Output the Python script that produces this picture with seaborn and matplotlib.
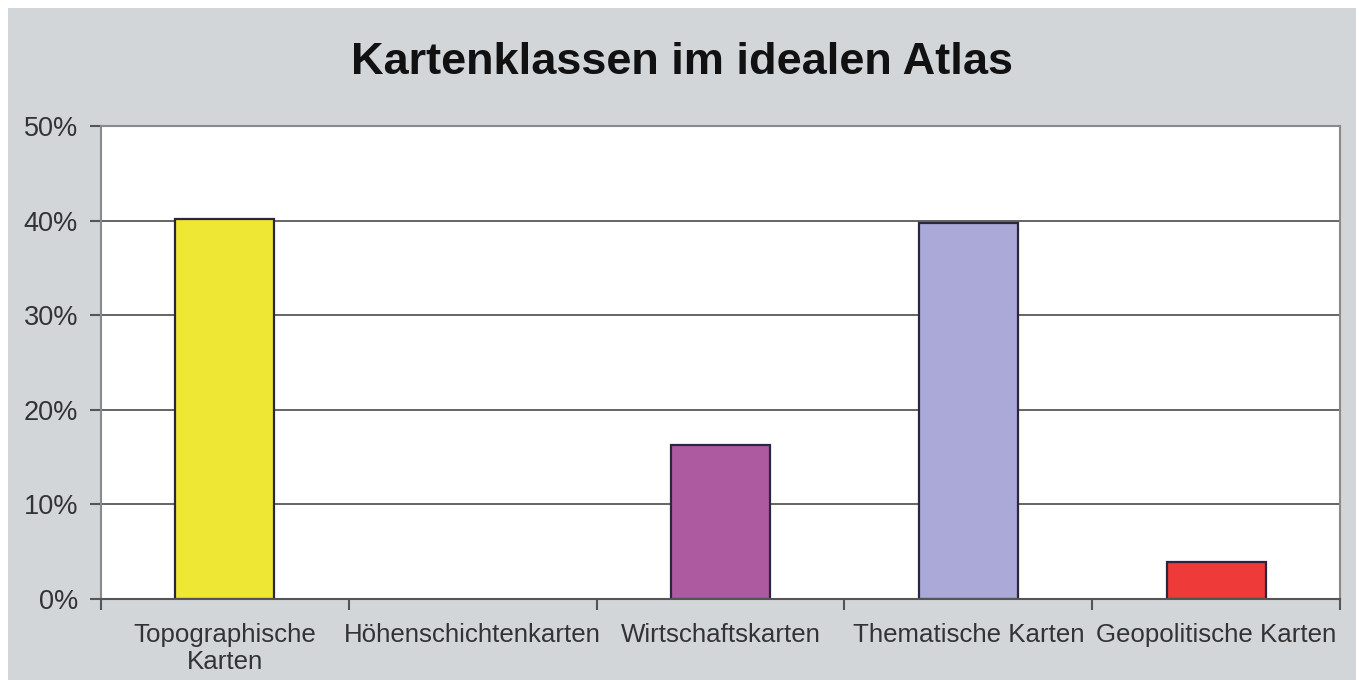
import matplotlib
matplotlib.use("Agg")
import matplotlib.pyplot as plt
from matplotlib.patches import Rectangle
from matplotlib.ticker import FuncFormatter, FixedLocator
import seaborn as sns
import pandas as pd

# Kartenklassen und ihre Anteile (in Prozent)
kategorien = ["Topographische\nKarten", "Höhenschichtenkarten", "Wirtschaftskarten",
              "Thematische Karten", "Geopolitische Karten"]
anteile = [40.2, 0.0, 16.3, 39.7, 3.9]
farben = ["#EEE835", "#FFFFFF", "#AD5AA0", "#ABA9D8", "#EE3A39"]
y_ticks = [0, 10, 20, 30, 40, 50]
titel = "Kartenklassen im idealen Atlas"

df = pd.DataFrame({"Kategorie": kategorien, "Anteil": anteile})

sns.set_theme(style="white")
plt.rcParams["font.family"] = ["Liberation Sans", "DejaVu Sans"]

W, H = 1359, 680
fig = plt.figure(figsize=(W / 100, H / 100), dpi=100, facecolor="white")

# grauer Hintergrund
fig.patches.append(Rectangle((8 / W, 0), (1356 - 8) / W, (H - 8) / H,
                             transform=fig.transFigure, facecolor="#D3D6D9",
                             edgecolor="none", zorder=-10))

ax = fig.add_axes([101 / W, 1 - 599 / H, (1340 - 101) / W, (599 - 126) / H])
ax.set_zorder(5)
ax.set_facecolor("white")

sns.barplot(data=df, x="Kategorie", y="Anteil", hue="Kategorie",
            palette=farben, saturation=1, legend=False, width=0.4,
            edgecolor="#2B2640", linewidth=1.6, ax=ax, zorder=3)
# keine sichtbare Kante für den leeren Balken
ax.patches[1].set_linewidth(0)

ax.set_ylim(0, 50)
ax.set_xlim(-0.5, len(kategorien) - 0.5)
ax.set_yticks(y_ticks)
ax.yaxis.set_major_formatter(FuncFormatter(lambda v, p: f"{int(v)}%"))
ax.grid(axis="y", color="#4A4A4A", linewidth=1.2, zorder=1)
ax.set_axisbelow(True)

# Kategorie-Trennstriche unterhalb der Achse
ax.xaxis.set_minor_locator(FixedLocator([i - 0.5 for i in range(len(kategorien) + 1)]))
ax.tick_params(axis="x", which="major", length=0, pad=17, labelsize=18.6, labelcolor="#333333")
ax.tick_params(axis="x", which="minor", length=8, width=1.5, color="#555555",
               direction="out", bottom=True)
ax.tick_params(axis="y", which="major", length=8, width=1.5, color="#555555",
               direction="out", left=True, pad=8.5, labelsize=19.5, labelcolor="#333333")

ax.set_xlabel("")
ax.set_ylabel("")

for s in ["left", "right", "top"]:
    ax.spines[s].set_visible(True)
    ax.spines[s].set_color("#8A8A8A")
    ax.spines[s].set_linewidth(1.5)
ax.spines["bottom"].set_color("#555555")
ax.spines["bottom"].set_linewidth(1.5)
ax.spines["bottom"].set_zorder(4)

fig.text(682 / W, 1 - 63 / H, titel, ha="center", va="center",
         fontsize=32.5, fontweight="bold", color="#111111")

fig.savefig("out.png", dpi=100, facecolor="white")
